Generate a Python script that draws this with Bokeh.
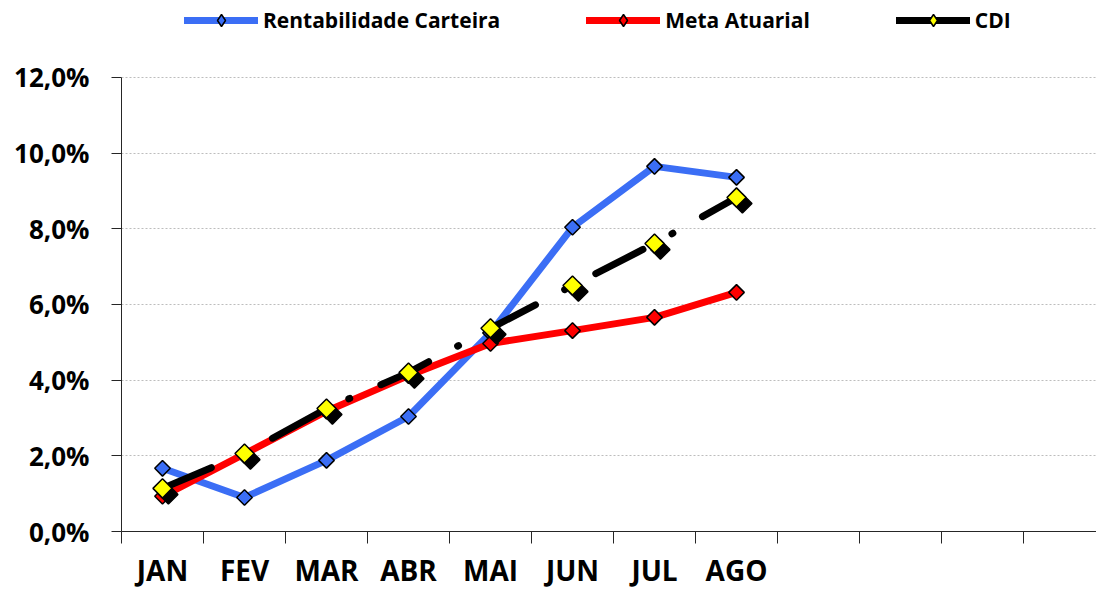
import numpy as np
from bokeh.plotting import figure
from bokeh.models import ColumnDataSource, FixedTicker, Legend, LegendItem, Range1d
from bokeh.embed import file_html
from bokeh.resources import INLINE

# ---- data ----
months = ["JAN", "FEV", "MAR", "ABR", "MAI", "JUN", "JUL", "AGO"]
rentabilidade = [1.67, 0.90, 1.88, 3.04, 5.25, 8.04, 9.65, 9.36]
meta_atuarial = [0.93, 2.05, 3.18, 4.12, 4.97, 5.31, 5.66, 6.32]
cdi = [1.14, 2.06, 3.25, 4.20, 5.37, 6.50, 7.61, 8.83]
y_ticks = [0, 2, 4, 6, 8, 10, 12]
y_labels = ["0,0%", "2,0%", "4,0%", "6,0%", "8,0%", "10,0%", "12,0%"]
n_slots = 12

FONT = "Open Sans"
BLUE = "#3B6EF5"
RED = "#FF0000"
YELLOW = "#FFFF00"
AX = "#262626"

# frame spans the whole height above the x axis so the legend can sit inside it
Y_TOP = 14.035

xs = np.arange(len(months)) + 0.5
src = ColumnDataSource(dict(x=xs, rent=rentabilidade, meta=meta_atuarial, cdi=cdi,
                            xs=xs + 0.072, cdis=np.array(cdi) - 0.16))

p = figure(width=1096, height=591, output_backend="svg", toolbar_location=None,
           x_range=Range1d(0, 11.89), y_range=Range1d(0, Y_TOP),
           min_border_left=121, min_border_right=0, min_border_top=0,
           min_border_bottom=60)
p.outline_line_color = None
p.background_fill_color = "white"

# axes
p.yaxis.ticker = FixedTicker(ticks=y_ticks)
p.yaxis.bounds = (0, 12)
p.yaxis.major_label_overrides = {t: l for t, l in zip(y_ticks, y_labels)}
p.yaxis.major_label_text_font = FONT
p.yaxis.major_label_text_font_style = "bold"
p.yaxis.major_label_text_font_size = "26px"
p.yaxis.major_label_text_color = "black"
p.yaxis.major_tick_out = 10
p.yaxis.major_tick_in = 0
p.yaxis.minor_tick_line_color = None
p.yaxis.major_label_standoff = 22
p.yaxis.axis_line_color = AX
p.yaxis.major_tick_line_color = AX

p.xaxis.ticker = FixedTicker(ticks=list(xs), minor_ticks=list(range(n_slots + 1)))
p.xaxis.major_label_overrides = {float(x): m for x, m in zip(xs, months)}
p.xaxis.major_label_text_font = FONT
p.xaxis.major_label_text_font_style = "bold"
p.xaxis.major_label_text_font_size = "28px"
p.xaxis.major_label_text_color = "black"
p.xaxis.major_tick_out = 0
p.xaxis.major_tick_in = 0
p.xaxis.minor_tick_out = 12
p.xaxis.minor_tick_in = 0
p.xaxis.minor_tick_line_color = AX
p.xaxis.major_label_standoff = 7
p.xaxis.axis_line_color = AX

p.xgrid.grid_line_color = None
p.ygrid.ticker = FixedTicker(ticks=y_ticks)
p.ygrid.grid_line_color = "#BDBDBD"
p.ygrid.grid_line_dash = "2 2"
p.ygrid.grid_line_width = 1

ANG = np.pi / 4

# Rentabilidade Carteira
p.line("x", "rent", source=src, line_color=BLUE, line_width=7, line_join="round")
p.scatter("x", "rent", source=src, marker="square", angle=ANG, size=11,
          fill_color=BLUE, line_color="black", line_width=1.5)
# Meta Atuarial
p.line("x", "meta", source=src, line_color=RED, line_width=7, line_join="round")
p.scatter("x", "meta", source=src, marker="square", angle=ANG, size=11,
          fill_color=RED, line_color="black", line_width=1.5)
# CDI (long dash - dot)
p.line("x", "cdi", source=src, line_color="black", line_width=7,
       line_dash="53 33 1 34", line_cap="round", line_join="round")
p.scatter("xs", "cdis", source=src, marker="square", angle=ANG, size=13.5,
          fill_color="black", line_color="black", line_width=1.5)
p.scatter("x", "cdi", source=src, marker="square", angle=ANG, size=13.5,
          fill_color=YELLOW, line_color="black", line_width=1.5)

# legend-only glyphs (no visible data)
nan_src = ColumnDataSource(dict(x=[np.nan], y=[np.nan]))
def legend_glyphs(color):
    lr = p.line("x", "y", source=nan_src, line_color="black" if color == YELLOW else color,
                line_width=7, line_cap="round")
    sr = p.scatter("x", "y", source=nan_src, marker="diamond", size=20,
                   fill_color=color, line_color="black", line_width=1.5)
    return [lr, sr]

legend = Legend(items=[
    LegendItem(label="Rentabilidade Carteira", renderers=legend_glyphs(BLUE)),
    LegendItem(label="Meta Atuarial", renderers=legend_glyphs(RED)),
    LegendItem(label="CDI", renderers=legend_glyphs(YELLOW)),
], orientation="horizontal", location=(63, 496))
legend.label_text_font = FONT
legend.label_text_font_style = "bold"
legend.label_text_font_size = "21px"
legend.label_text_color = "black"
legend.glyph_width = 74
legend.glyph_height = 30
legend.label_standoff = 5
legend.spacing = 86
legend.padding = 0
legend.margin = 0
legend.border_line_color = None
legend.background_fill_alpha = 0
p.add_layout(legend, "center")

open("out.html", "w").write(file_html(p, INLINE))
